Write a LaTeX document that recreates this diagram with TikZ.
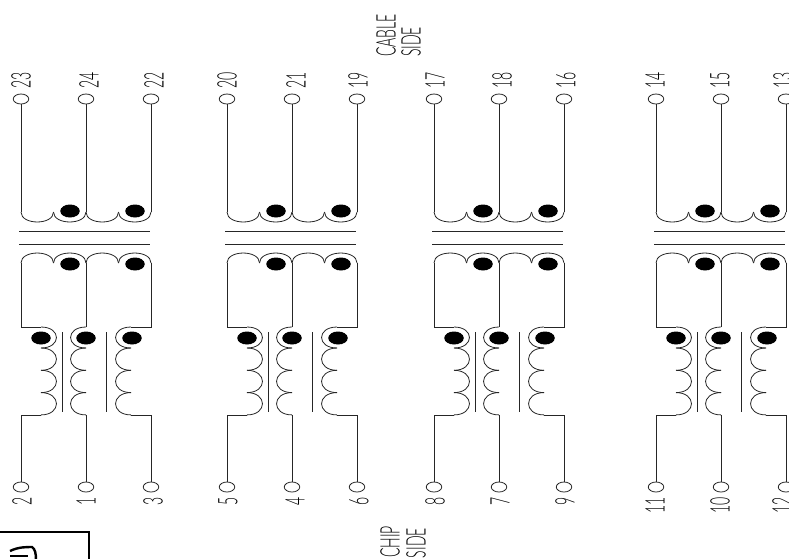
\documentclass[tikz,border=0pt]{standalone}
\usepackage{fontspec}
\setmainfont{Lato}[UprightFont=* Light]
\usetikzlibrary{shapes.geometric}
\tikzset{
    x=1pt, y=-1pt,
    wire/.style={draw=black!85, line width=0.8pt},
    pin/.style={ellipse, draw=black!85, line width=0.8pt, minimum width=15.5pt, minimum height=10pt, inner sep=0pt},
    phase/.style={ellipse, fill=black, minimum width=19.5pt, minimum height=13pt, inner sep=0pt},
    numtop/.style={rotate=90, anchor=west, inner sep=0pt, font=\fontsize{27}{27}\selectfont, xscale=.52},
    numbot/.style={rotate=90, anchor=east, inner sep=0pt, font=\fontsize{27}{27}\selectfont, xscale=.52},
}
% one lobe of a winding, from (#1,#2) to the right by #3, bulge #4
\newcommand{\lobe}[4]{\draw[wire] (#1,#2) .. controls +(0,#4*1.33) and +(0,#4*1.33) .. ++(#3,0);}
% one turn of a coil, from (#1,#2) down by #3, bulge #4
\newcommand{\turn}[4]{\draw[wire] (#1,#2) .. controls +(#4*1.33,0) and +(#4*1.33,0) .. ++(0,#3);}
\newcommand{\phaseblock}[7]{
    % pins
    \node[pin] (t#2) at (#1+21,99) {};
    \node[pin] (t#3) at (#1+86,99) {};
    \node[pin] (t#4) at (#1+151,99) {};
    \node[pin] (b#5) at (#1+21,487) {};
    \node[pin] (b#6) at (#1+86,487) {};
    \node[pin] (b#7) at (#1+151,487) {};
    % cable side winding
    \draw[wire] (t#2.south) -- (#1+21,212);
    \draw[wire] (t#3.south) -- (#1+86,212);
    \draw[wire] (t#4.south) -- (#1+151,212);
    \foreach \xa in {21,53.5,86,118.5}{
        \lobe{#1+\xa}{212}{32.5}{10}
        \lobe{#1+\xa}{263}{32.5}{-10}
    }
    \node[phase] at (#1+70,211) {};
    \node[phase] at (#1+135,211) {};
    \node[phase] at (#1+70,264) {};
    \node[phase] at (#1+135,264) {};
    % core
    \draw[wire] (#1+19,231) -- (#1+150,231);
    \draw[wire] (#1+19,244) -- (#1+150,244);
    \draw[wire] (#1+62,332) -- (#1+62,412);
    \draw[wire] (#1+106,332) -- (#1+106,412);
    % chip side winding
    \draw[wire] (#1+21,263) -- (#1+21,327) -- (#1+41,327);
    \draw[wire] (#1+86,263) -- (#1+86,327);
    \draw[wire] (#1+151,263) -- (#1+151,327) -- (#1+131,327);
    \turn{#1+41}{327}{21}{15.5}
    \turn{#1+86}{327}{21}{-15.5}
    \turn{#1+131}{327}{21}{-15.5}
    \node[phase] at (#1+41,338) {};
    \node[phase] at (#1+86,338) {};
    \node[phase] at (#1+132,338) {};
    \foreach \ya in {348,370.3,392.6}{
        \turn{#1+41}{\ya}{22.3}{15.5}
        \turn{#1+86}{\ya}{22.3}{-15.5}
        \turn{#1+131}{\ya}{22.3}{-15.5}
    }
    \draw[wire] (#1+41,415) -- (#1+21,415) -- (b#5.north);
    \draw[wire] (#1+86,415) -- (b#6.north);
    \draw[wire] (#1+131,415) -- (#1+151,415) -- (b#7.north);
}
\begin{document}
\begin{tikzpicture}
    \useasboundingbox (0,0) rectangle (789,558);
    \clip (0,0) rectangle (789,558);
    \phaseblock{0}{23}{24}{22}{2}{1}{3}
    \phaseblock{206}{20}{21}{19}{5}{4}{6}
    \phaseblock{413}{17}{18}{16}{8}{7}{9}
    \phaseblock{635}{14}{15}{13}{11}{10}{12}
    \foreach \xa/\num in {21/23,89/24,154/22,227/20,296/21,358/19,435/17,502/18,566/16,655/14,720/15,783/13}
        \node[numtop] (n\num) at (\xa,88.5) {\num};
    \foreach \xa/\num in {22/2,86/1,153/3,228/5,295/4,359/6,435/8,500/7,565/9,655/11,720/10,782/12}
        \node[numbot] (n\num) at (\xa,497.5) {\num};
    \node[numtop] (cable) at (386,57) {CABLE};
    \node[numtop] (cableside) at (411,57) {SIDE};
    \node[numbot] (chip) at (390,526) {CHIP};
    \node[numbot] (chipside) at (416,528) {SIDE};
    % box in the corner
    \draw[line width=2.8pt] (-3,532) -- (89,532) -- (89,561);
    \draw[line width=2.4pt] (10,551) .. controls (18,547) and (26,547) .. (32,547) .. controls (35,549) and (36,553) .. (36,560);
    \draw[line width=2.4pt] (10,556) -- (28,556);
\end{tikzpicture}
\end{document}
